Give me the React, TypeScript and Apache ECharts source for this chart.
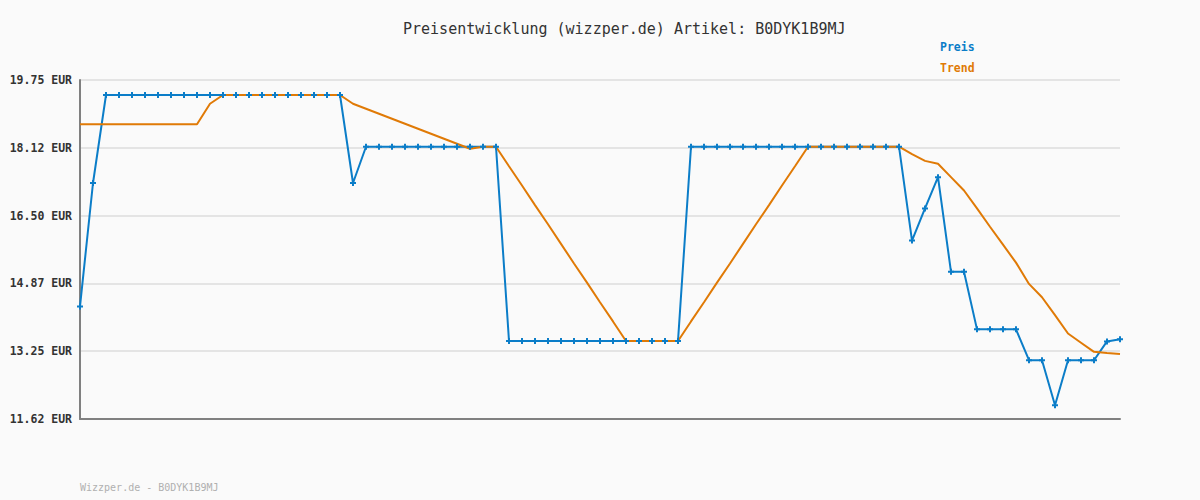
import React, { useEffect, useRef } from "react";
import * as echarts from "echarts";

const title = "Preisentwicklung (wizzper.de) Artikel: B0DYK1B9MJ";
const footer = "Wizzper.de - B0DYK1B9MJ";
const seriesNames = ["Preis", "Trend"];
const yTickLabels = ["11.62 EUR", "13.25 EUR", "14.87 EUR", "16.50 EUR", "18.12 EUR", "19.75 EUR"];
const yMin = 11.62;
const yMax = 19.75;

const preis = [
  14.32, 17.28,
  19.39, 19.39, 19.39, 19.39, 19.39, 19.39, 19.39, 19.39, 19.39, 19.39,
  19.39, 19.39, 19.39, 19.39, 19.39, 19.39, 19.39, 19.39, 19.39,
  17.28,
  18.15, 18.15, 18.15, 18.15, 18.15, 18.15, 18.15, 18.15, 18.15, 18.15, 18.15,
  13.49, 13.49, 13.49, 13.49, 13.49, 13.49, 13.49, 13.49, 13.49, 13.49, 13.49, 13.49, 13.49, 13.49,
  18.15, 18.15, 18.15, 18.15, 18.15, 18.15, 18.15, 18.15, 18.15, 18.15, 18.15, 18.15, 18.15, 18.15, 18.15, 18.15, 18.15,
  15.90, 16.67, 17.42, 15.15, 15.15,
  13.77, 13.77, 13.77, 13.77,
  13.03, 13.03, 11.95, 13.03, 13.03, 13.03,
  13.48, 13.53,
];

const trend = [
  18.69, 18.69, 18.69, 18.69, 18.69, 18.69, 18.69, 18.69, 18.69, 18.69,
  19.18,
  19.39, 19.39, 19.39, 19.39, 19.39, 19.39, 19.39, 19.39, 19.39, 19.39,
  19.18, 19.06, 18.94, 18.82, 18.70, 18.58, 18.46, 18.34, 18.22, 18.10,
  18.15, 18.15,
  17.68, 17.22, 16.75, 16.29, 15.82, 15.35, 14.89, 14.42, 13.96, 13.49,
  13.49, 13.49, 13.49, 13.49,
  13.96, 14.42, 14.89, 15.35, 15.82, 16.29, 16.75, 17.22, 17.68, 18.15,
  18.15, 18.15, 18.15, 18.15, 18.15, 18.15, 18.15,
  17.97, 17.81, 17.74, 17.42, 17.10, 16.67, 16.23, 15.80, 15.37, 14.86,
  14.54, 14.11, 13.67, 13.45, 13.23, 13.20, 13.18,
];

const categories = preis.map((_, i) => String(i + 1));

const BLUE = "#0b7dc8";
const ORANGE = "#e07a06";
const FONT = "'DejaVu Sans Mono', monospace";
const PLUS = "path://M2,0H4V6H2Z M0,2H6V4H0Z";

export default function App() {
  const ref = useRef<HTMLDivElement>(null);
  useEffect(() => {
    document.body.style.margin = "0";
    document.body.style.background = "#fafafa";
    const chart = echarts.init(ref.current!, null, { renderer: "svg" });
    chart.setOption({
      animation: false,
      backgroundColor: "#fafafa",
      title: {
        text: title,
        left: 398,
        top: 16,
        textStyle: { fontFamily: FONT, fontSize: 15, fontWeight: "normal", color: "#333" },
      },
      legend: {
        data: [
          { name: seriesNames[0], textStyle: { color: BLUE } },
          { name: seriesNames[1], textStyle: { color: ORANGE } },
        ],
        orient: "vertical",
        left: 930,
        top: 35,
        itemWidth: 0,
        itemHeight: 0,
        itemGap: 7,
        icon: "rect",
        textStyle: { fontFamily: FONT, fontSize: 11.5, fontWeight: "bold", lineHeight: 14 },
      },
      grid: { left: 80, right: 80, top: 80, bottom: 81, containLabel: false },
      xAxis: {
        type: "category",
        data: categories,
        boundaryGap: false,
        axisLine: { show: true, lineStyle: { color: "#808080", width: 2 } },
        axisTick: { show: false },
        axisLabel: { show: false },
        splitLine: { show: false },
      },
      yAxis: [
        {
          type: "value",
          min: yMin,
          max: yMax,
          show: false,
          splitLine: { show: false },
        },
        {
          type: "value",
          position: "left",
          min: 0,
          max: yTickLabels.length - 1,
          interval: 1,
          axisLine: { show: true, lineStyle: { color: "#808080", width: 2 } },
          axisTick: { show: false },
          axisLabel: {
            margin: 8,
            fontFamily: FONT,
            fontSize: 11.5,
            fontWeight: "bold",
            color: "#333",
            formatter: (v: number) => yTickLabels[Math.round(v)] ?? "",
          },
          splitLine: { show: true, lineStyle: { color: "#e4e4e4", width: 2 } },
        },
      ],
      series: [
        {
          name: seriesNames[0],
          type: "line",
          yAxisIndex: 0,
          data: preis,
          showSymbol: false,
          symbol: "none",
          lineStyle: { color: BLUE, width: 2 },
          itemStyle: { color: BLUE },
          z: 2,
        },
        {
          name: seriesNames[1],
          type: "line",
          yAxisIndex: 0,
          data: trend,
          symbol: "none",
          lineStyle: { color: ORANGE, width: 2 },
          itemStyle: { color: ORANGE },
          z: 3,
        },
        {
          name: "PreisPunkte",
          type: "line",
          yAxisIndex: 0,
          data: preis,
          symbol: PLUS,
          symbolSize: 6,
          showAllSymbol: true,
          lineStyle: { opacity: 0, width: 0 },
          itemStyle: { color: BLUE },
          z: 4,
        },
      ],
      graphic: [
        {
          type: "text",
          left: 80,
          top: 482,
          style: { text: footer, font: `10px ${FONT}`, fill: "#b0b0b0" },
        },
      ],
    });
    return () => chart.dispose();
  }, []);
  return <div ref={ref} style={{ width: 1200, height: 500 }} />;
}
